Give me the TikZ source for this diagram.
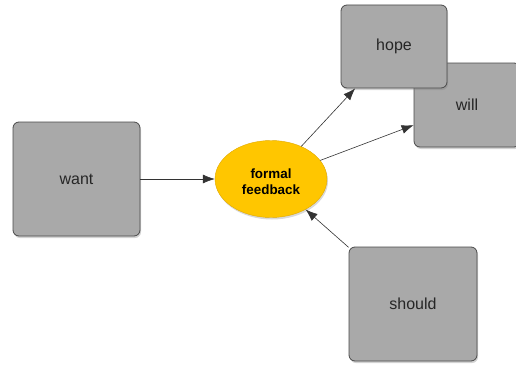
\documentclass[tikz,border=0pt]{standalone}
\usepackage{fontspec}
\setmainfont{Liberation Sans}
\usetikzlibrary{shapes.geometric,shadows,arrows.meta}
\definecolor{boxgray}{HTML}{A9A9A9}
\definecolor{boxedge}{HTML}{4A4A4A}
\definecolor{gold}{HTML}{FFC600}
\definecolor{goldedge}{HTML}{E0A800}
\begin{document}
\begin{tikzpicture}[x=1pt,y=1pt,
  wordbox/.style={draw=boxedge, line width=0.8pt, fill=boxgray, rounded corners=6pt,
    minimum width=#1, inner sep=0pt, font=\fontsize{16}{18}\selectfont, text=black!85,
    drop shadow={shadow xshift=1pt, shadow yshift=-2pt, opacity=0.35}},
  hub/.style={ellipse, draw=goldedge, line width=0.4pt, fill=gold, minimum width=112pt,
    minimum height=77pt, inner sep=0pt,
    drop shadow={shadow xshift=1pt, shadow yshift=-2pt, opacity=0.3}},
  hublabel/.style={font=\fontsize{13.4}{16}\selectfont\bfseries, align=center},
  link/.style={draw=black!80, line width=0.6pt, -{Latex[length=12pt,width=9pt]}}]
\useasboundingbox (0,0) rectangle (516,365);
\clip (0,0) rectangle (516,365);
\node[wordbox=127pt, minimum height=114pt] (want) at (76.5,186) {want};
\node[wordbox=106pt, minimum height=84pt] (will) at (467,260) {will};
\node[wordbox=106pt, minimum height=83pt] (hope) at (394,318.5) {hope};
\node[wordbox=128pt, minimum height=114pt] (should) at (413,61) {should};
\node[hub] (ff) at (271,186) {};
\node[hublabel] (fflabel) at (271,183.5) {formal\\feedback};
\draw[link] (want) -- (ff);
\draw[link] (ff) -- (hope);
\draw[link] (ff) -- (will);
\draw[link] (should) -- (ff);
\end{tikzpicture}
\end{document}
